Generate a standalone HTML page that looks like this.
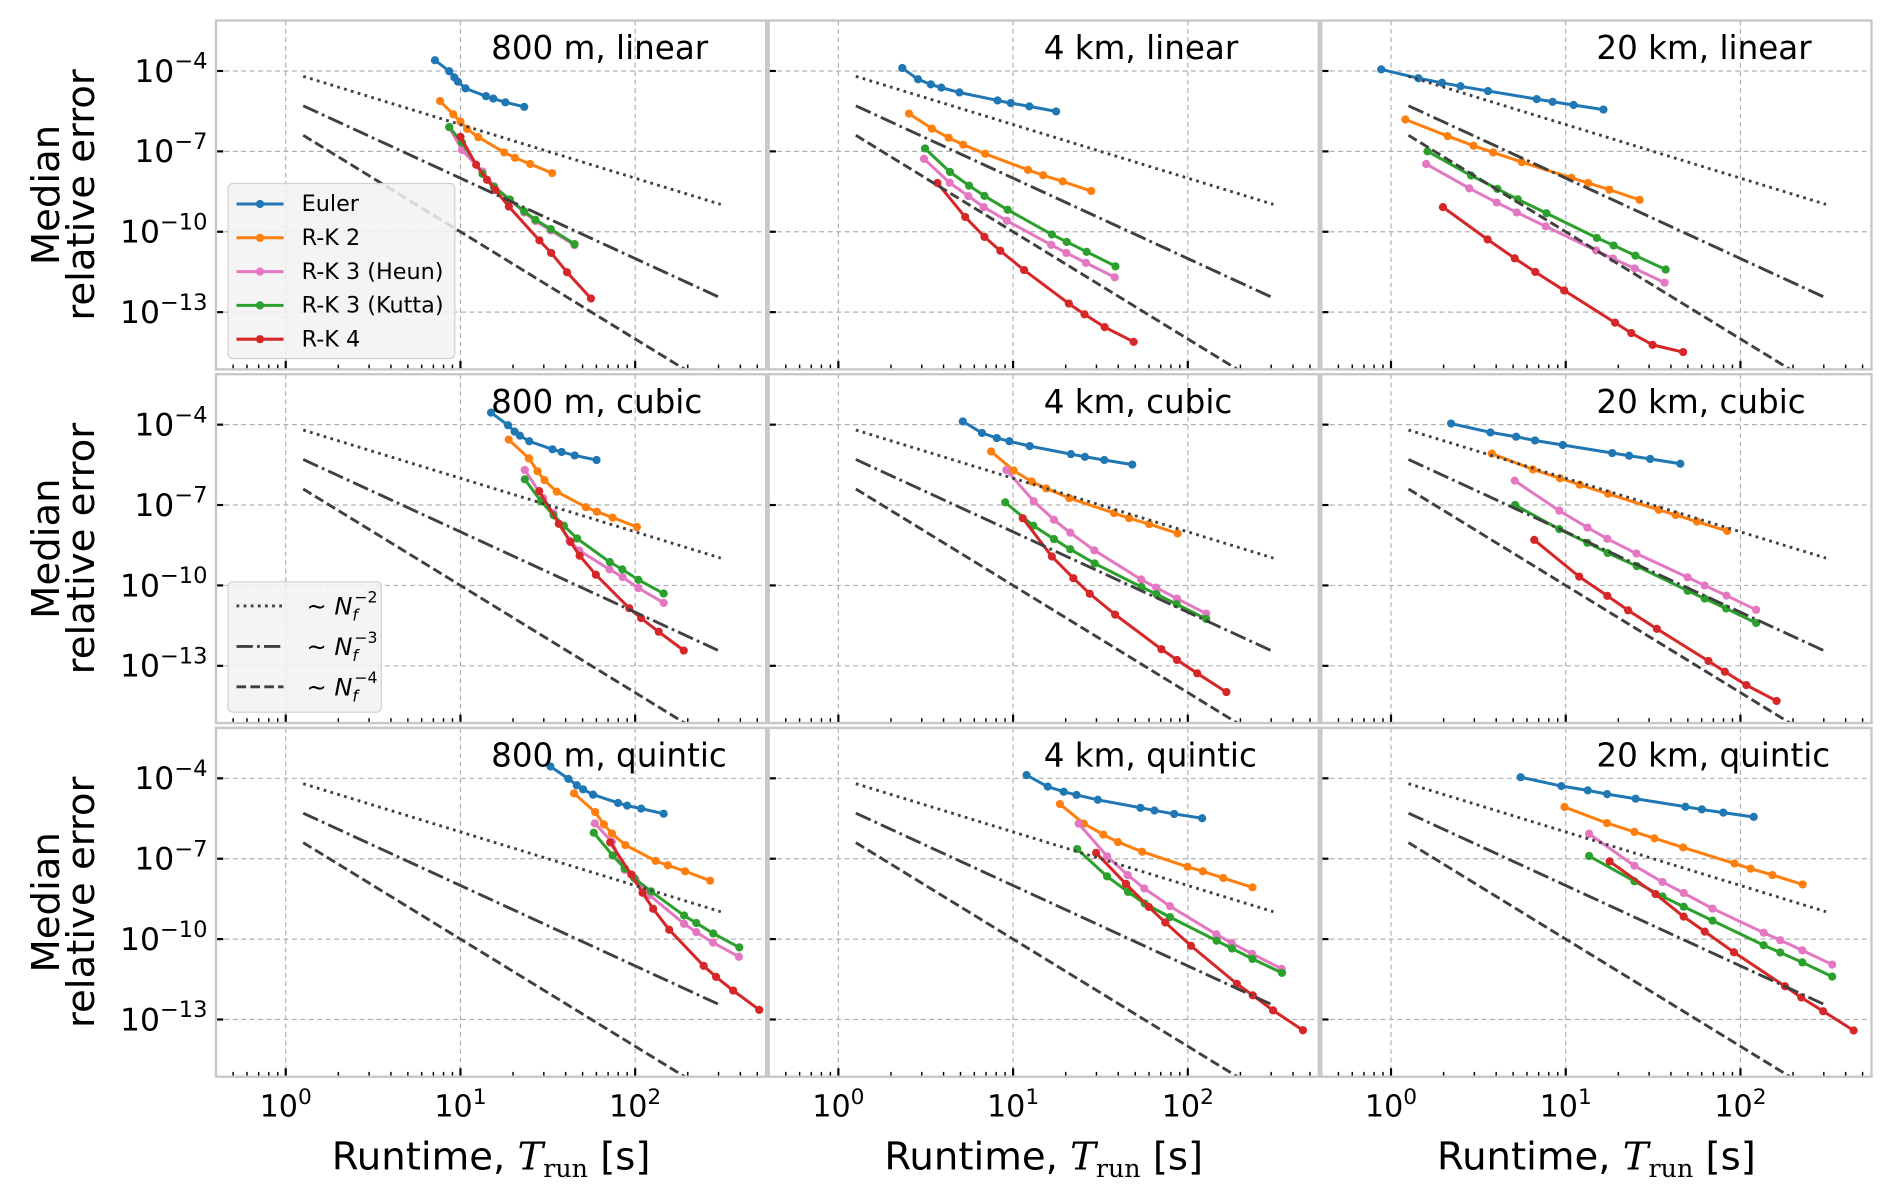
<!DOCTYPE html>
<html>
<head>
<meta charset="utf-8">
<style>
  html,body{margin:0;padding:0;background:#fff;}
  svg{display:block;}
  text{font-family:"DejaVu Sans","Liberation Sans",sans-serif;}
</style>
</head>
<body>
<svg id="chart" width="1892" height="1195" viewBox="0 0 1568 990" preserveAspectRatio="none" xmlns="http://www.w3.org/2000/svg"></svg>
<script>
// ---------- data (log10 runtime [s], log10 median relative error) ----------
const panelTitles = ["800 m, linear","4 km, linear","20 km, linear","800 m, cubic","4 km, cubic","20 km, cubic","800 m, quintic","4 km, quintic","20 km, quintic"];
const seriesNames = ["Euler","R-K 2","R-K 3 (Heun)","R-K 3 (Kutta)","R-K 4"];
const xTickExps = [0,1,2];
const yTickExps = [-4,-7,-10,-13];
const refNames = ["~N_f^-2","~N_f^-3","~N_f^-4"];
const refSlopes = [-2,-3,-4];
const refIntercepts = [-4.2,-5.3,-6.4];
const refRange = [0.1,2.49];

const eulerLogT = [
 [0.854,0.936,0.965,0.986,1.029,1.146,1.188,1.257,1.365],
 [0.366,0.456,0.529,0.589,0.693,0.911,0.987,1.093,1.246],
 [-0.056,0.157,0.292,0.398,0.555,0.834,0.925,1.045,1.216],
 [1.175,1.272,1.310,1.340,1.394,1.527,1.579,1.654,1.779],
 [0.712,0.822,0.907,0.979,1.095,1.331,1.411,1.522,1.682],
 [0.344,0.569,0.716,0.824,0.983,1.266,1.363,1.483,1.656],
 [1.515,1.618,1.666,1.702,1.759,1.902,1.954,2.034,2.163],
 [1.077,1.198,1.290,1.363,1.485,1.729,1.809,1.922,2.082],
 [0.742,0.975,1.126,1.237,1.400,1.685,1.779,1.902,2.076]];
const eulerLogErr = [
 [-3.60,-4.01,-4.24,-4.40,-4.65,-4.94,-5.03,-5.17,-5.34],
 [-3.89,-4.31,-4.50,-4.62,-4.80,-5.10,-5.20,-5.32,-5.51],
 [-3.94,-4.27,-4.44,-4.57,-4.75,-5.05,-5.15,-5.27,-5.44],
 [-3.55,-4.02,-4.26,-4.41,-4.62,-4.92,-5.02,-5.15,-5.32],
 [-3.88,-4.31,-4.50,-4.62,-4.80,-5.10,-5.20,-5.32,-5.49],
 [-3.96,-4.29,-4.45,-4.59,-4.76,-5.06,-5.16,-5.28,-5.46],
 [-3.56,-4.02,-4.26,-4.41,-4.61,-4.92,-5.02,-5.13,-5.32],
 [-3.88,-4.31,-4.50,-4.62,-4.80,-5.10,-5.20,-5.33,-5.49],
 [-3.96,-4.29,-4.45,-4.59,-4.76,-5.06,-5.16,-5.28,-5.44]];
const rk2LogT = [
 [0.883,0.959,1.0,1.038,1.102,1.251,1.312,1.399,1.525],
 [0.404,0.535,0.631,0.714,0.840,1.085,1.172,1.284,1.447],
 [0.082,0.324,0.472,0.585,0.748,1.033,1.128,1.250,1.423],
 [1.276,1.392,1.441,1.481,1.551,1.718,1.781,1.871,2.010],
 [0.874,1.003,1.106,1.190,1.321,1.578,1.664,1.779,1.942],
 [0.577,0.812,0.967,1.080,1.242,1.532,1.629,1.751,1.924],
 [1.650,1.771,1.821,1.867,1.944,2.117,2.187,2.286,2.429],
 [1.268,1.405,1.516,1.600,1.739,1.998,2.086,2.203,2.370],
 [0.993,1.236,1.393,1.508,1.672,1.966,2.058,2.183,2.356]];
const rk2LogErr = [
 [-5.12,-5.62,-5.89,-6.16,-6.47,-7.04,-7.24,-7.47,-7.81],
 [-5.59,-6.15,-6.49,-6.75,-7.09,-7.69,-7.89,-8.12,-8.48],
 [-5.81,-6.43,-6.79,-7.04,-7.40,-7.99,-8.18,-8.43,-8.81],
 [-4.56,-5.26,-5.74,-6.07,-6.50,-7.08,-7.25,-7.47,-7.82],
 [-5.00,-5.71,-6.12,-6.38,-6.74,-7.30,-7.49,-7.71,-8.06],
 [-5.08,-5.67,-6.00,-6.24,-6.58,-7.18,-7.37,-7.62,-7.97],
 [-4.56,-5.26,-5.72,-6.06,-6.49,-7.08,-7.25,-7.47,-7.82],
 [-4.96,-5.69,-6.10,-6.38,-6.74,-7.30,-7.47,-7.72,-8.07],
 [-5.07,-5.67,-6.00,-6.24,-6.58,-7.18,-7.37,-7.61,-7.96]];
const heunLogT = [
 [0.936,1.009,1.126,1.192,1.283,1.365,1.429,1.517,1.653],
 [0.490,0.637,0.744,0.832,0.965,1.218,1.305,1.417,1.582],
 [0.201,0.448,0.605,0.720,0.886,1.174,1.270,1.395,1.566],
 [1.368,1.473,1.531,1.624,1.680,1.853,1.928,2.018,2.163],
 [0.961,1.118,1.234,1.327,1.465,1.733,1.819,1.938,2.105],
 [0.708,0.963,1.124,1.238,1.405,1.698,1.795,1.920,2.090],
 [1.769,1.867,1.940,2.002,2.082,2.280,2.350,2.445,2.594],
 [1.375,1.538,1.656,1.751,1.898,2.163,2.251,2.368,2.537],
 [1.134,1.393,1.554,1.675,1.840,2.133,2.228,2.354,2.525]];
const heunLogErr = [
 [-6.10,-6.95,-7.75,-8.30,-8.80,-9.28,-9.60,-9.95,-10.50],
 [-7.28,-8.17,-8.67,-9.08,-9.59,-10.49,-10.79,-11.16,-11.70],
 [-7.47,-8.38,-8.91,-9.28,-9.80,-10.70,-11.00,-11.37,-11.90],
 [-5.69,-6.74,-7.30,-8.33,-8.70,-9.40,-9.69,-10.10,-10.65],
 [-5.69,-6.86,-7.55,-8.03,-8.69,-9.78,-10.08,-10.49,-11.05],
 [-6.09,-7.21,-7.84,-8.26,-8.81,-9.70,-10.00,-10.38,-10.91],
 [-5.68,-6.37,-7.42,-7.77,-8.36,-9.43,-9.74,-10.13,-10.66],
 [-5.69,-6.91,-7.61,-8.11,-8.77,-9.82,-10.15,-10.55,-11.11],
 [-6.07,-7.26,-7.87,-8.28,-8.86,-9.76,-10.04,-10.42,-10.95]];
const kuttaLogT = [
 [0.936,1.009,1.126,1.192,1.283,1.365,1.429,1.517,1.653],
 [0.496,0.639,0.748,0.836,0.969,1.222,1.307,1.421,1.586],
 [0.209,0.458,0.609,0.726,0.890,1.178,1.274,1.399,1.572],
 [1.368,1.461,1.533,1.592,1.668,1.855,1.926,2.018,2.163],
 [0.955,1.116,1.234,1.327,1.467,1.735,1.821,1.936,2.105],
 [0.710,0.963,1.124,1.240,1.407,1.698,1.795,1.918,2.090],
 [1.763,1.871,1.940,1.994,2.091,2.280,2.350,2.447,2.596],
 [1.367,1.538,1.658,1.753,1.898,2.165,2.253,2.370,2.539],
 [1.134,1.393,1.554,1.675,1.840,2.133,2.228,2.354,2.525]];
const kuttaLogErr = [
 [-6.09,-6.67,-7.84,-8.33,-8.80,-9.24,-9.55,-9.90,-10.46],
 [-6.89,-7.77,-8.28,-8.66,-9.18,-10.10,-10.38,-10.75,-11.29],
 [-7.00,-7.90,-8.40,-8.79,-9.31,-10.23,-10.51,-10.89,-11.41],
 [-6.04,-6.86,-7.38,-7.77,-8.25,-9.13,-9.40,-9.79,-10.30],
 [-6.90,-7.77,-8.27,-8.65,-9.18,-10.06,-10.33,-10.70,-11.25],
 [-7.00,-7.90,-8.41,-8.79,-9.28,-10.20,-10.49,-10.86,-11.40],
 [-6.03,-6.88,-7.36,-7.72,-8.22,-9.12,-9.40,-9.79,-10.31],
 [-6.64,-7.66,-8.24,-8.67,-9.18,-10.06,-10.35,-10.74,-11.26],
 [-6.90,-7.84,-8.41,-8.79,-9.31,-10.23,-10.50,-10.87,-11.40]];
const rk4LogT = [
 [1.0,1.090,1.152,1.199,1.277,1.452,1.519,1.610,1.747],
 [0.567,0.726,0.836,0.927,1.063,1.319,1.409,1.524,1.690],
 [0.297,0.553,0.708,0.826,0.991,1.282,1.375,1.497,1.672],
 [1.451,1.563,1.630,1.682,1.775,1.966,2.034,2.135,2.278],
 [1.055,1.222,1.345,1.439,1.584,1.849,1.938,2.054,2.221],
 [0.820,1.077,1.238,1.357,1.522,1.817,1.911,2.034,2.207],
 [1.857,1.978,2.042,2.103,2.195,2.392,2.463,2.561,2.710],
 [1.475,1.646,1.777,1.871,2.018,2.281,2.372,2.488,2.659],
 [1.251,1.514,1.675,1.796,1.963,2.255,2.348,2.473,2.648]];
const rk4LogErr = [
 [-6.46,-7.50,-8.06,-8.44,-9.06,-10.32,-10.79,-11.51,-12.49],
 [-8.18,-9.45,-10.19,-10.71,-11.43,-12.68,-13.08,-13.56,-14.11],
 [-9.08,-10.29,-10.99,-11.50,-12.19,-13.39,-13.78,-14.22,-14.49],
 [-6.48,-7.70,-8.38,-8.89,-9.60,-10.85,-11.22,-11.73,-12.43],
 [-7.49,-8.92,-9.73,-10.31,-11.09,-12.38,-12.78,-13.28,-13.98],
 [-8.30,-9.67,-10.39,-10.93,-11.62,-12.82,-13.22,-13.72,-14.31],
 [-6.39,-7.59,-8.27,-8.87,-9.65,-11.00,-11.41,-11.92,-12.64],
 [-6.78,-7.94,-8.80,-9.38,-10.25,-11.67,-12.10,-12.66,-13.40],
 [-7.10,-8.32,-9.16,-9.72,-10.49,-11.76,-12.18,-12.69,-13.41]];

// ---------- layout ----------
const seriesT = [eulerLogT, rk2LogT, heunLogT, kuttaLogT, rk4LogT];
const seriesE = [eulerLogErr, rk2LogErr, heunLogErr, kuttaLogErr, rk4LogErr];
const seriesColors = ["#1f77b4","#ff7f0e","#e377c2","#2ca02c","#d62728"];
const refDash = ["2.3,3.6","13.5,3.5,2.3,3.5","8,3.5"];
const colLeft = [179,637,1095], rowTop = [17,310,603], PW = 456, PH = 289;
const X0 = 57.8, XDEC = 144.8, Y0 = 41.8, YDEC = 22.2;

const NS = "http://www.w3.org/2000/svg";
const svg = document.getElementById("chart");
function mk(tag, attrs, parent){
  const e = document.createElementNS(NS, tag);
  for (const k in attrs) e.setAttribute(k, attrs[k]);
  parent.appendChild(e);
  return e;
}
function xS(p, lx){ return colLeft[p%3] + X0 + XDEC*lx; }
function yS(p, le){ return rowTop[Math.floor(p/3)] + Y0 + YDEC*(-4 - le); }
function supText(parent, x, y, base, sup, anchor, size){
  const t = mk("text", {x:x, y:y, "text-anchor":anchor, "font-size":size, fill:"#000"}, parent);
  const a = mk("tspan", {}, t); a.textContent = base;
  const b = mk("tspan", {dy:-size*0.42, "font-size":size*0.72}, t); b.textContent = sup;
  return t;
}

const defs = mk("defs", {}, svg);

for (let p = 0; p < 9; p++){
  const L = colLeft[p%3], T = rowTop[Math.floor(p/3)];
  const g = mk("g", {}, svg);
  
  
  const cp = mk("clipPath", {id:"clip"+p}, defs);
  mk("rect", {x:L, y:T, width:PW, height:PH}, cp);
  const bg = mk("rect", {x:L, y:T, width:PW, height:PH, fill:"#fff"}, g);
  
  

  xTickExps.forEach(e => {
    const x = xS(p, e);
    const gl = mk("line", {x1:x, x2:x, y1:T, y2:T+PH, stroke:"#b0b0b0", "stroke-width":1, "stroke-dasharray":"4,3"}, g);
    
    
  });
  yTickExps.forEach(e => {
    const y = yS(p, e);
    const gl = mk("line", {x1:L, x2:L+PW, y1:y, y2:y, stroke:"#b0b0b0", "stroke-width":1, "stroke-dasharray":"4,3"}, g);
    
    
    const tk = mk("line", {x1:L, x2:L+6, y1:y, y2:y, stroke:"#000", "stroke-width":1.8}, g);
    
    
  });
  const lxMin = -X0/XDEC, lxMax = (PW - X0)/XDEC;
  for (let d = -1; d <= 2; d++){
    for (let m = 1; m <= 9; m++){
      const lx = d + Math.log10(m);
      if (lx < lxMin || lx > lxMax) continue;
      const x = xS(p, lx), len = (m === 1) ? 7 : 4;
      const tk = mk("line", {x1:x, x2:x, y1:T+PH, y2:T+PH-len, stroke:"#000", "stroke-width":m===1?1.8:1.2}, g);
      
      
    }
  }

  const plot = mk("g", {"clip-path":"url(#clip"+p+")"}, g);
  for (let s = 0; s < 5; s++){
    const ts = seriesT[s][p], es = seriesE[s][p];
    const pts = ts.map((t,i) => xS(p,t).toFixed(1)+","+yS(p,es[i]).toFixed(1)).join(" ");
    const sg = mk("g", {}, plot);
    
    
    const pl = mk("polyline", {points:pts, fill:"none", stroke:seriesColors[s], "stroke-width":2.5, "stroke-linejoin":"round"}, sg);
    
    
    ts.forEach((t,i) => {
      const c = mk("circle", {cx:xS(p,t), cy:yS(p,es[i]), r:3.4, fill:seriesColors[s]}, sg);
      
      
    });
  }
  for (let r = 0; r < 3; r++){
    const x1 = refRange[0], x2 = refRange[1];
    const y1 = refIntercepts[r], y2 = refIntercepts[r] + refSlopes[r]*(x2 - x1);
    const ln = mk("line", {x1:xS(p,x1), y1:yS(p,y1), x2:xS(p,x2), y2:yS(p,y2), stroke:"#404040", "stroke-width":2.4, "stroke-dasharray":refDash[r]}, plot);
    
    
  }

  const bd = mk("rect", {x:L, y:T, width:PW, height:PH, fill:"none", stroke:"#c8c8c8", "stroke-width":2}, g);
  
  
  const tt = mk("text", {x:L+228, y:T+32, "font-size":27, fill:"#000"}, g);
  tt.textContent = panelTitles[p];
  
  

  if (p % 3 === 0){
    yTickExps.forEach(e => {
      const lb = supText(g, L-7, yS(p,e)+9, "10", "\u2212" + (-e), "end", 26);
      
      
    });
    const yt = mk("text", {transform:"translate(0," + (T+PH/2) + ") rotate(-90)", "text-anchor":"middle", "font-size":32, fill:"#000"}, g);
    
    
    const l1 = mk("tspan", {x:0, y:49}, yt); l1.textContent = "Median";
    const l2 = mk("tspan", {x:0, y:78}, yt); l2.textContent = "relative error";
  }
  if (p >= 6){
    xTickExps.forEach(e => {
      const lb = supText(g, xS(p,e), 925, "10", String(e), "middle", 25);
      
      
    });
    const xt = mk("text", {x:L+PW/2, y:969, "text-anchor":"middle", "font-size":32, fill:"#000"}, g);
    
    
    const a = mk("tspan", {}, xt); a.textContent = "Runtime, ";
    const b = mk("tspan", {"font-family":"'DejaVu Serif','Liberation Serif',serif", "font-style":"italic"}, xt); b.textContent = "T";
    const c = mk("tspan", {"font-family":"'DejaVu Serif','Liberation Serif',serif", "font-size":21, dy:6}, xt); c.textContent = "run";
    const d = mk("tspan", {dy:-6}, xt); d.textContent = " [s]";
  }
}

// ---------- legend: methods ----------
const lg1 = mk("g", {}, svg);


mk("rect", {x:189, y:152, width:188, height:145, rx:4, fill:"#f2f2f2", "fill-opacity":0.85, stroke:"#d0d0d0", "stroke-width":1}, lg1);
seriesNames.forEach((n, i) => {
  const y = 169 + i*28;
  const e = mk("g", {}, lg1);
  
  
  mk("line", {x1:196, x2:235, y1:y, y2:y, stroke:seriesColors[i], "stroke-width":2.5}, e);
  mk("circle", {cx:215.5, cy:y, r:3.4, fill:seriesColors[i]}, e);
  const t = mk("text", {x:250, y:y+6, "font-size":18.5, fill:"#000"}, e);
  t.textContent = n;
});

// ---------- legend: reference slopes ----------
const lg2 = mk("g", {}, svg);


mk("rect", {x:189, y:482, width:127, height:108, rx:4, fill:"#f2f2f2", "fill-opacity":0.85, stroke:"#d0d0d0", "stroke-width":1}, lg2);
refSlopes.forEach((s, i) => {
  const y = 502 + i*33.5;
  const e = mk("g", {}, lg2);
  
  
  mk("line", {x1:196, x2:235, y1:y, y2:y, stroke:"#404040", "stroke-width":2.4, "stroke-dasharray":refDash[i]}, e);
  const t = mk("text", {x:254, y:y+7, "font-size":20, fill:"#000", "font-family":"'DejaVu Serif','Liberation Serif',serif"}, e);
  const a = mk("tspan", {}, t); a.textContent = "\u223C ";
  const b = mk("tspan", {"font-style":"italic"}, t); b.textContent = "N";
  const c = mk("tspan", {"font-style":"italic", "font-size":13, dy:5}, t); c.textContent = "f";
  const d = mk("tspan", {"font-size":13, dx:-3, dy:-15}, t); d.textContent = "\u2212" + (-s);
});
</script>
</body>
</html>
